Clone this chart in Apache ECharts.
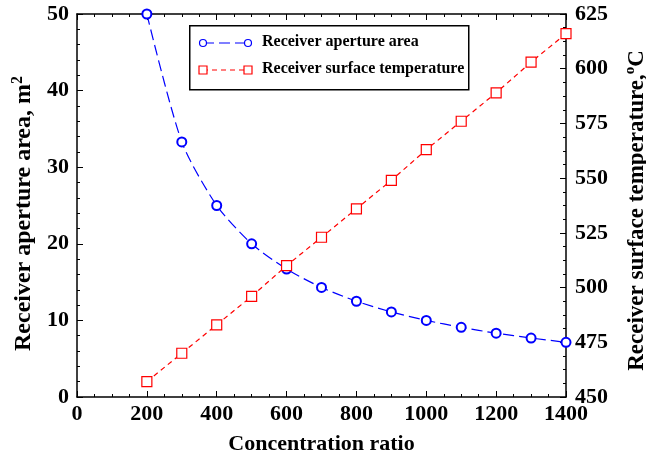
<!DOCTYPE html>
<html><head><meta charset="utf-8">
<script src="https://cdn.jsdelivr.net/npm/echarts@6/dist/echarts.min.js"></script>
<style>html,body{margin:0;padding:0;background:#fff}#c{width:646px;height:460px}</style>
</head><body><div id="c"></div>
<script>
const concentration = [200,300,400,500,600,700,800,900,1000,1100,1200,1300,1400];
const apertureArea = [50,33.3,25,20,16.7,14.3,12.5,11.1,10,9.1,8.33,7.7,7.14];
const surfaceTemp = [457,470,483,496,510,523,536,549,563,576,589,603,616];
const seriesNames = ['Receiver aperture area','Receiver surface temperature'];
const FONT = '"Liberation Serif","Times New Roman",serif';
const chart = echarts.init(document.getElementById('c'));
const tickStyle = {color:'#000', fontFamily:FONT, fontWeight:'bold', fontSize:22, formatter:v=>String(v)};
function nameStyle(size, pad){
  return {color:'#000', fontFamily:FONT, fontWeight:'bold', fontSize:size, padding:pad,
    rich:{sup:{fontFamily:FONT, fontWeight:'bold', fontSize:Math.round(size*0.65), verticalAlign:'bottom', padding:[0,0,Math.round(size*0.55),0]}}};
}
const axLine = {show:true, onZero:false, lineStyle:{color:'#000', width:1.5}};
chart.setOption({
  animation:false,
  grid:{left:77, right:80, top:14, bottom:63, containLabel:false, outerBoundsMode:'none'},
  xAxis:[
    {type:'value', min:0, max:1400, interval:200, position:'bottom',
     name:'Concentration ratio', nameLocation:'middle', nameGap:36, nameTextStyle:nameStyle(22,[0,0,0,0]),
     axisLine:axLine, axisTick:{inside:true, length:6, lineStyle:{color:'#000'}},
     minorTick:{show:true, splitNumber:4, length:3, lineStyle:{color:'#000'}},
     axisLabel:Object.assign({margin:6}, tickStyle), splitLine:{show:false}},
    {type:'value', min:0, max:1400, interval:200, position:'top',
     axisLine:axLine, axisTick:{inside:true, length:6, lineStyle:{color:'#000'}},
     minorTick:{show:true, splitNumber:4, length:3, lineStyle:{color:'#000'}},
     axisLabel:{show:false}, splitLine:{show:false}}
  ],
  yAxis:[
    {type:'value', min:0, max:50, interval:10, position:'left',
     name:'Receiver aperture area, m{sup|2}', nameLocation:'middle', nameGap:31, nameRotate:90,
     nameTextStyle:nameStyle(24,[0,16,0,0]),
     axisLine:axLine, axisTick:{inside:true, length:6, lineStyle:{color:'#000'}},
     minorTick:{show:true, splitNumber:5, length:3, lineStyle:{color:'#000'}},
     axisLabel:Object.assign({margin:8}, tickStyle), splitLine:{show:false}},
    {type:'value', min:450, max:625, interval:25, position:'right',
     name:'Receiver surface temperature,{sup|o}C', nameLocation:'middle', nameGap:57, nameRotate:90,
     nameTextStyle:nameStyle(23,[0,10,0,0]),
     axisLine:axLine, axisTick:{inside:true, length:6, lineStyle:{color:'#000'}},
     minorTick:{show:true, splitNumber:4, length:3, lineStyle:{color:'#000'}},
     axisLabel:Object.assign({margin:9}, tickStyle), splitLine:{show:false}}
  ],
  series:[
    {name:seriesNames[0], type:'line', xAxisIndex:0, yAxisIndex:0, smooth:0.25,
     data:concentration.map((c,i)=>[c,apertureArea[i]]),
     symbol:'emptyCircle', symbolSize:9, clip:true,
     itemStyle:{color:'#0000ff', borderWidth:1.1},
     lineStyle:{color:'#0000ff', width:1.2, type:[11,5]}},
    {name:seriesNames[1], type:'line', xAxisIndex:0, yAxisIndex:1,
     data:concentration.map((c,i)=>[c,surfaceTemp[i]]),
     symbol:'rect', symbolSize:10, clip:true,
     itemStyle:{color:'#fff', borderColor:'#ff0000', borderWidth:1.2},
     lineStyle:{color:'#ff0000', width:1.2, type:[5,4]}}
  ],
  graphic:[
    {type:'rect', left:189, top:25, shape:{width:279, height:64}, style:{fill:'#fff', stroke:'#000', lineWidth:1.5}, z:100},
    {type:'line', shape:{x1:203,y1:43,x2:248,y2:43}, style:{stroke:'#0000ff', lineWidth:1.2, lineDash:[11,5]}, z:101},
    {type:'circle', shape:{cx:203,cy:43,r:3.5}, style:{fill:'#fff', stroke:'#0000ff', lineWidth:1.2}, z:102},
    {type:'circle', shape:{cx:248,cy:43,r:3.5}, style:{fill:'#fff', stroke:'#0000ff', lineWidth:1.2}, z:102},
    {type:'text', left:262, top:34, style:{text:seriesNames[0], fill:'#000', font:'bold 16px '+FONT}, z:102},
    {type:'line', shape:{x1:203,y1:70,x2:248,y2:70}, style:{stroke:'#ff0000', lineWidth:1.2, lineDash:[5,4]}, z:101},
    {type:'rect', shape:{x:199,y:66,width:8,height:8}, style:{fill:'#fff', stroke:'#ff0000', lineWidth:1.2}, z:102},
    {type:'rect', shape:{x:244,y:66,width:8,height:8}, style:{fill:'#fff', stroke:'#ff0000', lineWidth:1.2}, z:102},
    {type:'text', left:262, top:61, style:{text:seriesNames[1], fill:'#000', font:'bold 16px '+FONT}, z:102}
  ]
});
</script></body></html>
